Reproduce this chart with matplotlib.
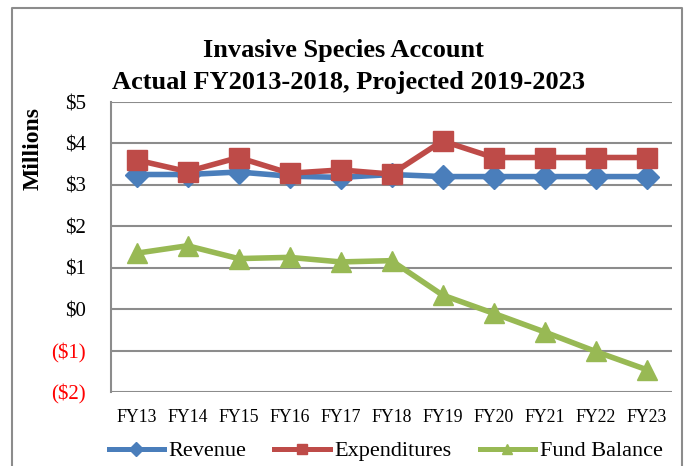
import matplotlib
matplotlib.use("Agg")
import matplotlib.pyplot as plt
from matplotlib.lines import Line2D

categories = ["FY13", "FY14", "FY15", "FY16", "FY17", "FY18", "FY19", "FY20", "FY21", "FY22", "FY23"]
revenue = [3.25, 3.25, 3.31, 3.21, 3.18, 3.25, 3.20, 3.20, 3.20, 3.20, 3.20]
expenditures = [3.60, 3.32, 3.66, 3.28, 3.36, 3.26, 4.06, 3.66, 3.66, 3.66, 3.66]
fund_balance = [1.35, 1.53, 1.22, 1.25, 1.14, 1.17, 0.34, -0.10, -0.55, -1.02, -1.46]
ytick_vals = [5, 4, 3, 2, 1, 0, -1, -2]
ytick_labels = ["$5", "$4", "$3", "$2", "$1", "$0", "($1)", "($2)"]
title_line1 = "Invasive Species Account"
title_line2 = "Actual FY2013-2018, Projected 2019-2023"
y_title = "Millions"
series_names = ["Revenue", "Expenditures", "Fund Balance"]
colors = ["#4A7EBB", "#BE4B48", "#98B954"]

serif = ["Liberation Serif", "DejaVu Serif"]

W, H = 686, 466
fig = plt.figure(figsize=(W / 100, H / 100), dpi=100)
fig.patch.set_facecolor("white")

# outer chart border
bx0, bx1, by0 = 12 / W, 682 / W, 1 - 8 / H
fig.add_artist(Line2D([bx0, bx0, bx1, bx1], [-0.01, by0, by0, -0.01],
                      transform=fig.transFigure, color="#8C8C8C", lw=1.5))

ax = fig.add_axes([111 / W, 74 / H, 561 / W, 290 / H])
x = list(range(len(categories)))

ax.set_xlim(-0.5, len(categories) - 0.5)
ax.set_ylim(-2, 5)
ax.set_yticks(ytick_vals)
ax.set_yticklabels(ytick_labels)
for lbl, v in zip(ax.get_yticklabels(), ytick_vals):
    lbl.set_fontfamily(serif)
    lbl.set_fontsize(15)
    lbl.set_color("red" if v < 0 else "black")
ax.set_xticks(x)
ax.set_xticklabels(categories, fontfamily=serif, fontsize=12.8)
ax.tick_params(axis="both", length=0)
ax.tick_params(axis="y", pad=18)
ax.tick_params(axis="x", pad=12)

ax.grid(axis="y", color="#8C8C8C", lw=1.5)
ax.set_axisbelow(True)
for s in ["top", "right", "bottom"]:
    ax.spines[s].set_visible(False)
ax.spines["left"].set_color("#8C8C8C")
ax.spines["left"].set_linewidth(1.5)

ax.plot(x, revenue, color=colors[0], lw=4, marker="D", markersize=12,
        label=series_names[0], zorder=3)
ax.plot(x, expenditures, color=colors[1], lw=4, marker="s", markersize=14,
        label=series_names[1], zorder=4)
ax.plot(x, fund_balance, color=colors[2], lw=4, marker="^", markersize=15,
        label=series_names[2], zorder=3)

fig.text(33.5 / W, 1 - 149 / H, y_title, rotation=90, ha="center", va="center",
         fontfamily=serif, fontsize=17, fontweight="bold")

fig.text(343.5 / W, 1 - 57 / H, title_line1, ha="center", va="baseline",
         fontfamily=serif, fontsize=19, fontweight="bold")
fig.text(348 / W, 1 - 89 / H, title_line2, ha="center", va="baseline",
         fontfamily=serif, fontsize=19, fontweight="bold")

handles = [Line2D([0], [0], color=c, lw=3.6, marker=m, markersize=7)
           for c, m in zip(colors, ["D", "s", "^"])]
fig.legend(handles, series_names, loc="center", bbox_to_anchor=(385.5 / W, 1 - 451 / H),
           ncol=3, frameon=False, prop={"family": serif, "size": 16},
           handlelength=2.48, handletextpad=0.22, columnspacing=1.26,
           borderpad=0, borderaxespad=0)

fig.savefig("out.png", dpi=100, facecolor="white")
